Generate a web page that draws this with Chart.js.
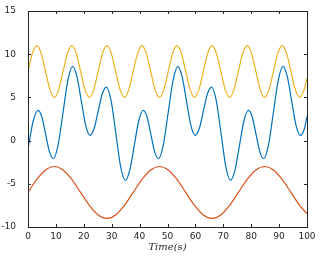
<!DOCTYPE html>
<html lang="en">

<head>
    <meta charset="UTF-8">
    <script src="https://cdn.jsdelivr.net/npm/chart.js"></script>
    <title>Time(s)</title>
    <style>
        body { margin: 0; background: #fff; }
    </style>
</head>

<body>
    <canvas id="grafico" width="328" height="256"></canvas>
</body>

</html>

<script>
    // eixos
    var xTicks = [0, 10, 20, 30, 40, 50, 60, 70, 80, 90, 100]
    var yTicks = [-10, -5, 0, 5, 10, 15]

    // serie amarela
    var tAmarelo = [0, 1.57, 3.14, 4.71, 6.28, 7.85, 9.42, 11.0, 12.57, 14.14, 15.71, 17.28, 18.85, 20.42, 21.99, 23.56,
        25.13, 26.70, 28.27, 29.85, 31.42, 32.99, 34.56, 36.13, 37.70, 39.27, 40.84, 42.41, 43.98, 45.55, 47.12, 48.69,
        50.27, 51.84, 53.41, 54.98, 56.55, 58.12, 59.69, 61.26, 62.83, 64.40, 65.97, 67.54, 69.12, 70.69, 72.26, 73.83,
        75.40, 76.97, 78.54, 80.11, 81.68, 83.25, 84.82, 86.39, 87.96, 89.54, 91.11, 92.68, 94.25, 95.82, 97.39, 98.96, 100]
    var vAmarelo = [8, 10.1, 11, 10.1, 8, 5.9, 5, 5.9, 8, 10.1, 11, 10.1, 8, 5.9, 5, 5.9,
        8, 10.1, 11, 10.1, 8, 5.9, 5, 5.9, 8, 10.1, 11, 10.1, 8, 5.9, 5, 5.9,
        8, 10.1, 11, 10.1, 8, 5.9, 5, 5.9, 8, 10.1, 11, 10.1, 8, 5.9, 5, 5.9,
        8, 10.1, 11, 10.1, 8, 5.9, 5, 5.9, 8, 10.1, 11, 10.1, 8, 5.9, 5, 5.9, 7.2]

    // serie azul
    var tAzul = [0, 1.9, 3.6, 5.0, 6.35, 7.7, 9.1, 10.8, 12.55, 14.3, 16.0, 17.55, 19.1, 20.65, 22.2, 23.7,
        25.15, 26.6, 28.1, 29.8, 31.5, 33.2, 34.9, 36.5, 38.1, 39.7,
        41.3, 42.7, 44.05, 45.4, 46.8, 48.5, 50.25, 52.0, 53.7, 55.25, 56.8, 58.35, 59.9, 61.4,
        62.85, 64.3, 65.8, 67.5, 69.2, 70.9, 72.6, 74.2, 75.8, 77.4,
        79.0, 80.4, 81.75, 83.1, 84.5, 86.2, 87.95, 89.7, 91.4, 92.95, 94.5, 96.05, 97.6, 99.1, 100]
    var vAzul = [-0.9, 2.3, 3.5, 2.7, 0.7, -1.3, -2.1, -0.5, 3.25, 7.0, 8.6, 7.4, 4.6, 1.8, 0.6, 1.4,
        3.4, 5.4, 6.2, 4.6, 0.8, -3.0, -4.6, -3.4, -0.55, 2.3,
        3.5, 2.7, 0.7, -1.3, -2.1, -0.5, 3.25, 7.0, 8.6, 7.4, 4.6, 1.8, 0.6, 1.4,
        3.4, 5.4, 6.2, 4.6, 0.8, -3.0, -4.6, -3.4, -0.55, 2.3,
        3.5, 2.7, 0.7, -1.3, -2.1, -0.5, 3.25, 7.0, 8.6, 7.4, 4.6, 1.8, 0.6, 1.4, 2.8]

    // serie laranja
    var tLaranja = [0, 3.14, 6.28, 9.42, 12.57, 15.71, 18.85, 21.99, 25.13, 28.27, 31.42, 34.56,
        37.70, 40.84, 43.98, 47.12, 50.27, 53.41, 56.55, 59.69, 62.83, 65.97, 69.12, 72.26,
        75.40, 78.54, 81.68, 84.82, 87.96, 91.11, 94.25, 97.39, 100]
    var vLaranja = [-6, -4.5, -3.4, -3, -3.4, -4.5, -6, -7.5, -8.6, -9, -8.6, -7.5,
        -6, -4.5, -3.4, -3, -3.4, -4.5, -6, -7.5, -8.6, -9, -8.6, -7.5,
        -6, -4.5, -3.4, -3, -3.4, -4.5, -6, -7.5, -8.46]

    function pares(t, v) {
        var d = []
        for (var i = 0; i < t.length; i++) {
            d.push({ x: t[i], y: v[i] })
        }
        return d
    }

    function serie(t, v, cor) {
        return {
            data: pares(t, v),
            borderColor: cor,
            borderWidth: 1.2,
            pointRadius: 0,
            fill: false,
            cubicInterpolationMode: 'monotone'
        }
    }

    // caixa e ticks para dentro, estilo matlab
    var caixa = {
        id: 'caixa',
        afterDatasetsDraw(chart) {
            var ctx = chart.ctx
            var a = chart.chartArea
            var x = chart.scales.x
            var y = chart.scales.y
            ctx.save()
            ctx.strokeStyle = '#262626'
            ctx.lineWidth = 1
            ctx.beginPath()
            xTicks.forEach(function (v) {
                var px = Math.round(x.getPixelForValue(v)) + 0.5
                ctx.moveTo(px, a.bottom); ctx.lineTo(px, a.bottom - 3)
                ctx.moveTo(px, a.top); ctx.lineTo(px, a.top + 3)
            })
            yTicks.forEach(function (v) {
                var py = Math.round(y.getPixelForValue(v)) + 0.5
                ctx.moveTo(a.left, py); ctx.lineTo(a.left + 3, py)
                ctx.moveTo(a.right, py); ctx.lineTo(a.right - 3, py)
            })
            ctx.stroke()
            ctx.strokeRect(Math.round(a.left) + 0.5, Math.round(a.top) + 0.5,
                Math.round(a.right - a.left), Math.round(a.bottom - a.top))
            ctx.restore()
        }
    }

    var fonteTick = { family: 'DejaVu Sans, sans-serif', size: 9 }

    const graph = new Chart(grafico, {
        type: 'line',
        data: {
            datasets: [
                serie(tAmarelo, vAmarelo, '#EDB120'),
                serie(tAzul, vAzul, '#0072BD'),
                serie(tLaranja, vLaranja, '#D95319')
            ]
        },
        options: {
            responsive: false,
            animation: false,
            devicePixelRatio: 1,
            layout: { padding: { left: 0, top: 11, right: 21, bottom: 0 } },
            plugins: { legend: { display: false }, tooltip: { enabled: false } },
            scales: {
                x: {
                    type: 'linear',
                    min: 0,
                    max: 100,
                    afterBuildTicks: function (s) { s.ticks = xTicks.map(function (v) { return { value: v } }) },
                    afterFit: function (s) { s.height = 29 },
                    grid: { display: false },
                    border: { display: false },
                    ticks: { color: '#262626', font: fonteTick, padding: -4, maxRotation: 0 },
                    title: {
                        display: true,
                        text: 'Time(s)',
                        color: '#262626',
                        font: { family: 'DejaVu Serif, serif', size: 10, style: 'italic' },
                        padding: { top: 0, bottom: 2.5 }
                    }
                },
                y: {
                    min: -10,
                    max: 15,
                    afterBuildTicks: function (s) { s.ticks = yTicks.map(function (v) { return { value: v } }) },
                    afterFit: function (s) { s.width = 28 },
                    grid: { display: false },
                    border: { display: false },
                    ticks: { color: '#262626', font: fonteTick, padding: 4 }
                }
            }
        },
        plugins: [caixa]
    });
</script>
